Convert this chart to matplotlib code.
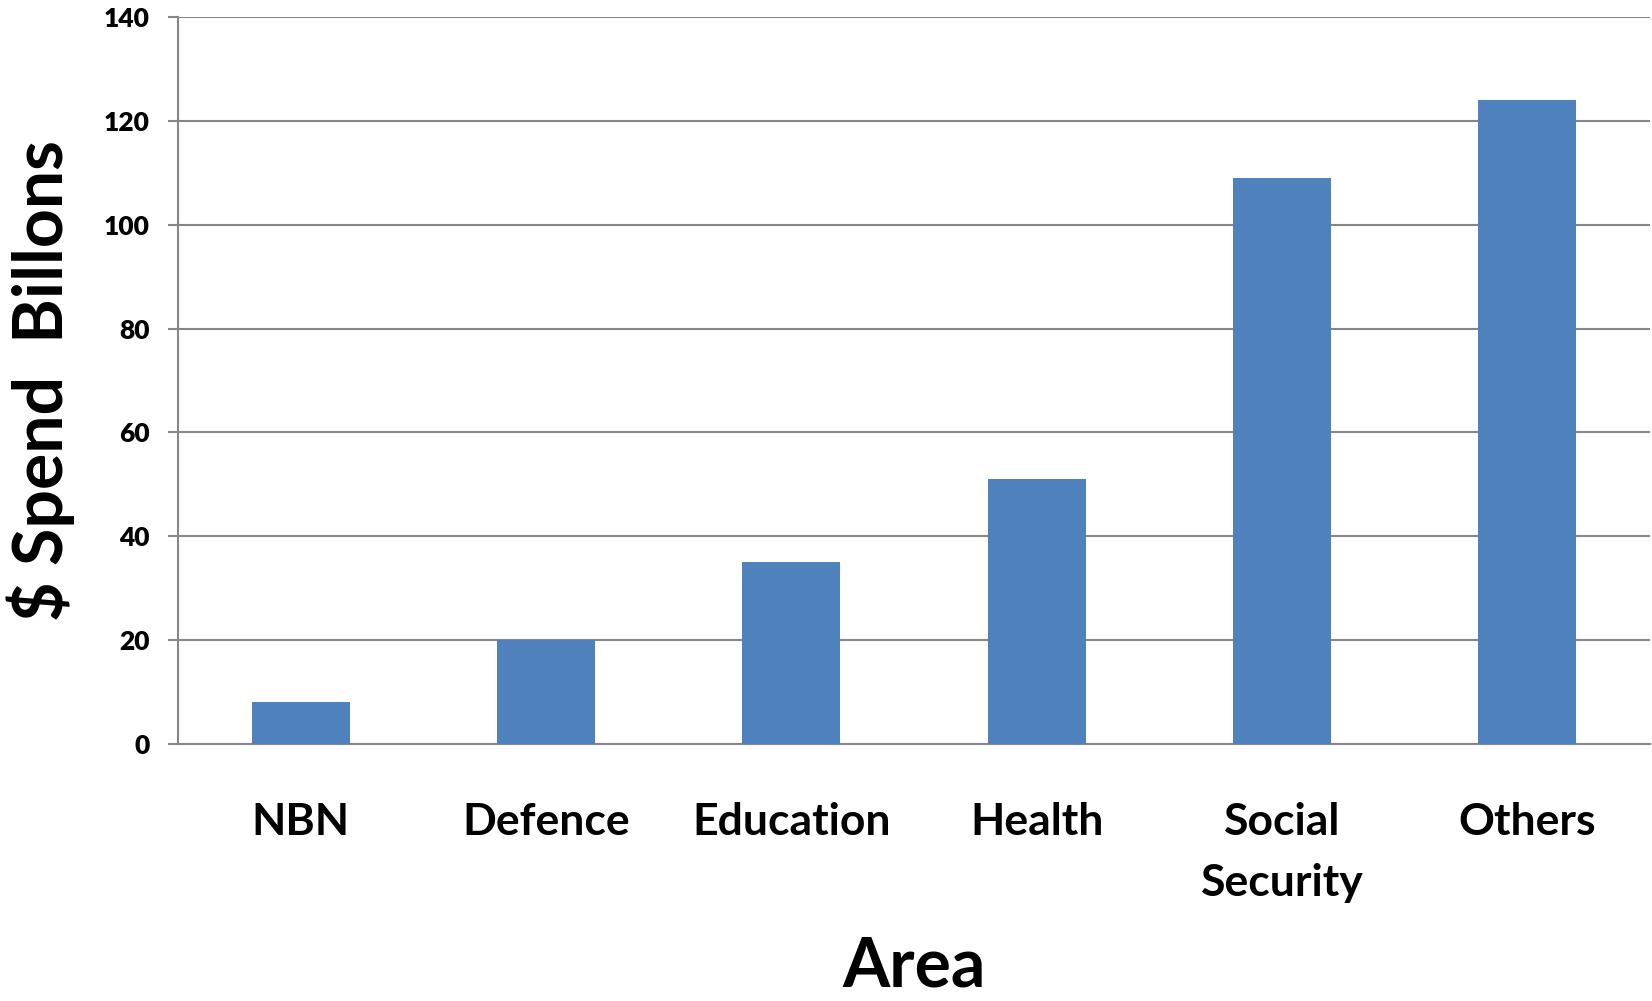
import matplotlib
matplotlib.use("Agg")
import matplotlib.pyplot as plt

categories = ["NBN", "Defence", "Education", "Health", "Social\nSecurity", "Others"]
values = [8, 20, 35, 51, 109, 124]
yticks = [0, 20, 40, 60, 80, 100, 120, 140]

plt.rcParams['font.family'] = ['Lato', 'DejaVu Sans']
plt.rcParams['font.weight'] = 'bold'

grid_c = '#868686'
fig = plt.figure(figsize=(16.52, 10.01), dpi=100)
ax = fig.add_axes([178/1652, 1 - 744/1001, 1472/1652, 727/1001])

x = list(range(len(categories)))
ax.bar(x, values, width=0.4, color='#4F81BD', zorder=3)

ax.set_xlim(-0.5, len(categories) - 0.5)
ax.set_ylim(0, 140)
ax.set_yticks(yticks)
ax.set_yticklabels([str(t) for t in yticks], fontsize=19, fontweight='heavy')
ax.set_xticks(x)
ax.set_xticklabels(categories, fontsize=32, fontweight='bold', linespacing=1.62)

ax.yaxis.grid(True, color=grid_c, linewidth=1.5, zorder=0)
ax.set_axisbelow(True)
for s in ['top', 'right']:
    ax.spines[s].set_visible(False)
for s in ['left', 'bottom']:
    ax.spines[s].set_color(grid_c)
    ax.spines[s].set_linewidth(1.5)

ax.tick_params(axis='y', length=7.2, width=1.5, color=grid_c, pad=13)
ax.tick_params(axis='x', length=0, pad=42)

ax.set_ylabel("$ Spend  Billons", fontsize=49, fontweight='bold', va='center')
ax.yaxis.set_label_coords(-0.093, 0.5)
ax.set_xlabel("Area", fontsize=49, fontweight='bold', va='bottom')
ax.xaxis.set_label_coords(0.5, -0.350)

fig.savefig("out.png", dpi=100)
